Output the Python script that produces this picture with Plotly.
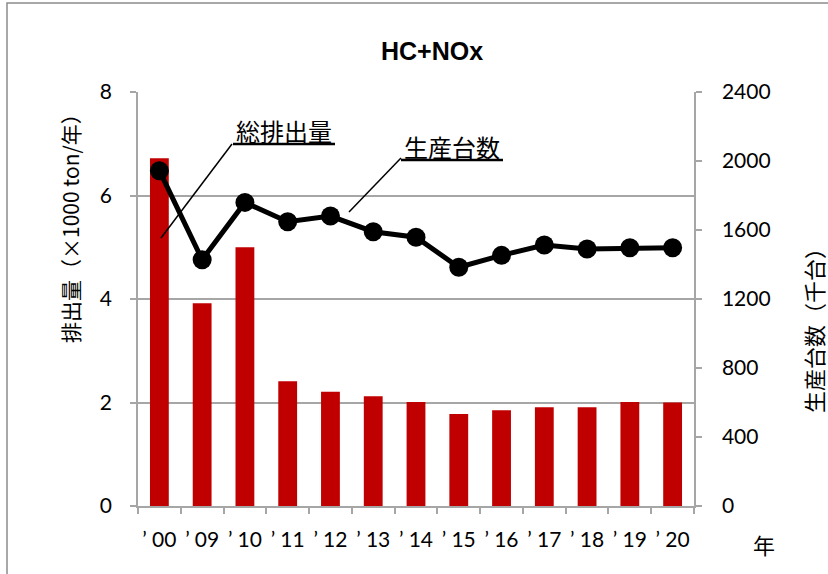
import plotly.graph_objects as go

years = ["’00", "’09", "’10", "’11", "’12", "’13", "’14", "’15", "’16", "’17", "’18", "’19", "’20"]
emissions = [6.72, 3.92, 5.0, 2.41, 2.21, 2.12, 2.01, 1.78, 1.85, 1.91, 1.91, 2.01, 2.0]
production = [1944, 1428, 1760, 1648, 1681, 1590, 1558, 1384, 1453, 1513, 1490, 1497, 1497]
tick_labels = ["’ 00", "’ 09", "’ 10", "’ 11", "’ 12", "’ 13", "’ 14", "’ 15", "’ 16", "’ 17", "’ 18", "’ 19", "’ 20"]

W, H = 828, 574
L, R, T, B = 138, 694, 92, 506

def px(x):
    return (x - L) / (R - L)

def py(y):
    return (B - y) / (B - T)

CJK = "Noto Sans CJK JP"
NUM = "Lato"
GRID = "#a6a6a6"

fig = go.Figure()
fig.add_trace(go.Bar(x=years, y=emissions, marker=dict(color="#C00000", line=dict(width=0)),
                     width=0.44, yaxis="y", showlegend=False))
fig.add_trace(go.Scatter(x=years, y=production, yaxis="y2", mode="lines+markers",
                         line=dict(color="black", width=5),
                         marker=dict(color="black", size=19), showlegend=False))

fig.update_layout(
    width=W, height=H,
    margin=dict(l=L, r=W - R, t=T, b=H - B),
    paper_bgcolor="white", plot_bgcolor="white",
    xaxis=dict(type="category", range=[-0.5, len(years) - 0.5], showgrid=False,
               showline=True, linecolor=GRID, linewidth=1.5,
               tickmode="array", tickvals=years, ticktext=tick_labels, tickangle=0,
               ticks="outside", tickson="boundaries", ticklen=6, tickcolor=GRID, tickwidth=1.5,
               tickfont=dict(family=NUM, size=21, color="black"), ticklabelstandoff=14),
    yaxis=dict(range=[0, 8], dtick=2, showgrid=True, gridcolor=GRID, gridwidth=1.5,
               showline=True, linecolor=GRID, linewidth=1.5, zeroline=False,
               ticks="outside", ticklen=6, tickcolor=GRID, tickwidth=1.5,
               tickfont=dict(family=NUM, size=21, color="black"), ticklabelstandoff=14),
    yaxis2=dict(range=[0, 2400], dtick=400, overlaying="y", side="right", showgrid=False,
                showline=True, linecolor=GRID, linewidth=1.5, zeroline=False,
                ticks="outside", ticklen=6, tickcolor=GRID, tickwidth=1.5,
                tickfont=dict(family=NUM, size=21, color="black"), ticklabelstandoff=16),
)

ann = [
    dict(text="<b>HC+NOx</b>", x=px(432), y=py(51), font=dict(family="Liberation Sans", size=25, color="black")),
    dict(text="排出量（×1000 ton/年）", x=px(70), y=py(223), textangle=-90, font=dict(family=CJK, size=21, color="black")),
    dict(text="生産台数（千台）", x=px(813), y=py(325), textangle=-90, font=dict(family=CJK, size=22, color="black")),
    dict(text="年", x=px(764), y=py(544), font=dict(family=CJK, size=22, color="black")),
    dict(text="総排出量", x=px(284), y=py(130), font=dict(family=CJK, size=24, color="black")),
    dict(text="生産台数", x=px(452), y=py(146), font=dict(family=CJK, size=24, color="black")),
]
for a in ann:
    a.update(xref="paper", yref="paper", showarrow=False, xanchor="center", yanchor="middle")
fig.update_layout(annotations=ann)

shapes = [
    dict(type="rect", x0=px(7), y0=py(3), x1=px(900), y1=py(640), line=dict(color="#8c8c8c", width=1.5)),
    dict(type="line", x0=px(233), y0=py(144), x1=px(335), y1=py(144), line=dict(color="black", width=2.5)),
    dict(type="line", x0=px(232), y0=py(144), x1=px(161), y1=py(238), line=dict(color="black", width=1.5)),
    dict(type="line", x0=px(401), y0=py(160), x1=px(503), y1=py(160), line=dict(color="black", width=2.5)),
    dict(type="line", x0=px(401), y0=py(158), x1=px(349), y1=py(212), line=dict(color="black", width=1.5)),
]
for s in shapes:
    s.update(xref="paper", yref="paper", layer="above")
fig.update_layout(shapes=shapes)

fig.write_html("out.html", config={"displayModeBar": False},
               post_script="document.body.style.margin='0';document.body.style.overflow='hidden';")
